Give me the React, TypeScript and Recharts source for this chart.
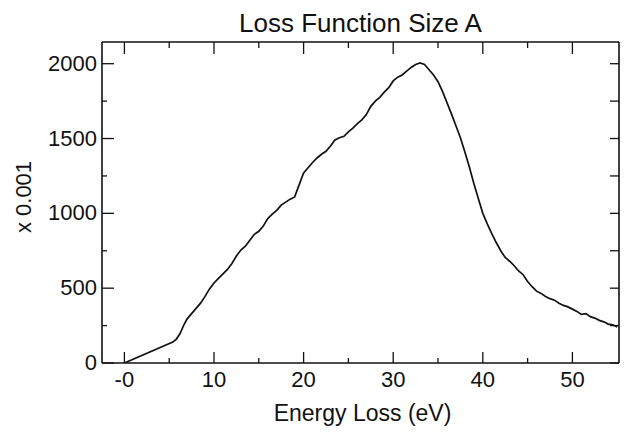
import React from 'react';
import { LineChart, Line, XAxis, YAxis, Label } from 'recharts';

const energyEv = [
  0, 5.4, 5.8, 6.2, 6.6, 7.0, 7.5, 8.0, 8.5, 9.0, 9.5, 10.0, 10.5, 11.0, 11.5, 12.0, 12.5, 13.0, 13.5, 14.0,
  14.5, 15.0, 15.5, 16.0, 16.5, 17.0, 17.5, 18.0, 18.5, 19.0, 19.5, 20.0, 20.5, 21.0, 21.5, 22.0, 22.5, 23.0,
  23.5, 24.0, 24.5, 25.0, 25.5, 26.0, 26.5, 27.0, 27.5, 28.0, 28.5, 29.0, 29.5, 30.0, 30.5, 31.0, 31.5, 32.0,
  32.5, 33.0, 33.5, 34.0, 34.5, 35.0, 35.5, 36.0, 36.5, 37.0, 37.5, 38.0, 38.5, 39.0, 39.5, 40.0, 40.5, 41.0,
  41.5, 42.0, 42.5, 43.0, 43.5, 44.0, 44.5, 45.0, 45.5, 46.0, 46.5, 47.0, 47.5, 48.0, 48.5, 49.0, 49.5, 50.0,
  50.5, 51.0, 51.5, 52.0, 52.5, 53.0, 53.5, 54.0, 54.5, 55.0,
];
const lossValues = [
  0, 140, 160, 195, 250, 295, 330, 365, 400, 445, 495, 535, 565, 595, 625, 665, 715, 755, 780, 820,
  860, 880, 915, 965, 995, 1020, 1055, 1075, 1095, 1110, 1190, 1270, 1305, 1340, 1370, 1395, 1415, 1450,
  1490, 1505, 1515, 1545, 1570, 1600, 1625, 1660, 1715, 1750, 1775, 1810, 1840, 1885, 1910, 1925, 1950, 1975,
  1995, 2005, 1995, 1960, 1925, 1880, 1815, 1740, 1665, 1585, 1505, 1410, 1310, 1200, 1100, 1000, 930, 865,
  805, 750, 705, 680, 650, 615, 590, 545, 510, 480, 465, 445, 430, 420, 400, 385, 375, 360,
  345, 325, 330, 310, 300, 285, 275, 260, 255, 240,
];

const xMajorTicks = [0, 10, 20, 30, 40, 50];
const xMinorTicks = [5, 15, 25, 35, 45];
const xTickLabels = ['-0', '10', '20', '30', '40', '50'];
const yMajorTicks = [0, 500, 1000, 1500, 2000];
const yMinorTicks = [250, 750, 1250, 1750];
const yTickLabels = ['0', '500', '1000', '1500', '2000'];

const titleText = 'Loss Function Size A';
const xAxisTitle = 'Energy Loss (eV)';
const yAxisTitle = 'x 0.001';

const data = energyEv.map((e, i) => ({ energy: e, loss: lossValues[i] }));
const xTicks = [...xMajorTicks, ...xMinorTicks].sort((a, b) => a - b);
const yTicks = [...yMajorTicks, ...yMinorTicks].sort((a, b) => a - b);

const FONT = '"Liberation Sans", Arial, Helvetica, sans-serif';
const INK = '#111';

const BottomTick = (props: any) => {
  const { x, y, payload } = props;
  const idx = xMajorTicks.indexOf(payload.value);
  const major = idx >= 0;
  return (
    <g>
      <line x1={x} x2={x} y1={y} y2={y - (major ? 11 : 5)} stroke={INK} strokeWidth={1.3} />
      {major && (
        <text x={x} y={y + 24} textAnchor="middle" fontSize={22} fontFamily={FONT} fill={INK}>
          {xTickLabels[idx]}
        </text>
      )}
    </g>
  );
};

const TopTick = (props: any) => {
  const { x, y, payload } = props;
  const major = xMajorTicks.indexOf(payload.value) >= 0;
  return <line x1={x} x2={x} y1={y} y2={y + (major ? 12 : 6)} stroke={INK} strokeWidth={1.3} />;
};

const LeftTick = (props: any) => {
  const { x, y, payload } = props;
  const idx = yMajorTicks.indexOf(payload.value);
  const major = idx >= 0;
  return (
    <g>
      <line x1={x} x2={x + (major ? 12 : 5)} y1={y} y2={y} stroke={INK} strokeWidth={1.3} />
      {major && (
        <text x={x - 5} y={y + 7} textAnchor="end" fontSize={22} fontFamily={FONT} fill={INK}>
          {yTickLabels[idx]}
        </text>
      )}
    </g>
  );
};

const RightTick = (props: any) => {
  const { x, y } = props;
  return <line x1={x} x2={x - 9} y1={y} y2={y} stroke={INK} strokeWidth={1.3} />;
};

export default function App() {
  return (
    <div style={{ position: 'absolute', left: 0, top: 0, width: 624, height: 433, background: '#fff' }}>
      <div
        style={{
          position: 'absolute',
          left: 102,
          width: 517,
          top: 10,
          textAlign: 'center',
          fontFamily: FONT,
          fontSize: 26,
          lineHeight: '26px',
          color: INK,
        }}
      >
        {titleText}
      </div>
      <LineChart width={624} height={433} data={data} margin={{ top: 41, right: 4, bottom: 0, left: 0 }}>
        <XAxis
          dataKey="energy"
          type="number"
          domain={[-2.5, 55.2]}
          ticks={xTicks}
          interval={0}
          height={70}
          tickSize={0}
          tickMargin={0}
          tickLine={false}
          axisLine={{ stroke: INK, strokeWidth: 1.6 }}
          tick={BottomTick}
          allowDataOverflow
        >
          <Label
            content={(p: any) => {
              const vb = p.viewBox;
              return (
                <text x={vb.x + vb.width / 2 + 2} y={vb.y + 58} textAnchor="middle" fontSize={23} fontFamily={FONT} fill={INK}>
                  {xAxisTitle}
                </text>
              );
            }}
          />
        </XAxis>
        <XAxis
          xAxisId="top"
          orientation="top"
          dataKey="energy"
          type="number"
          domain={[-2.5, 55.2]}
          ticks={xTicks}
          interval={0}
          height={1}
          tickSize={0}
          tickMargin={0}
          tickLine={false}
          axisLine={{ stroke: INK, strokeWidth: 1.6 }}
          tick={TopTick}
          allowDataOverflow
        />
        <YAxis
          type="number"
          domain={[0, 2145]}
          ticks={yTicks}
          interval={0}
          width={102}
          tickSize={0}
          tickMargin={0}
          tickLine={false}
          axisLine={{ stroke: INK, strokeWidth: 1.6 }}
          tick={LeftTick}
          allowDataOverflow
        >
          <Label
            content={(p: any) => {
              const vb = p.viewBox;
              const cx = 31;
              const cy = vb.y + 155;
              return (
                <text
                  x={cx}
                  y={cy}
                  transform={`rotate(-90, ${cx}, ${cy})`}
                  textAnchor="middle"
                  fontSize={22}
                  fontFamily={FONT}
                  fill={INK}
                >
                  {yAxisTitle}
                </text>
              );
            }}
          />
        </YAxis>
        <YAxis
          yAxisId="right"
          orientation="right"
          type="number"
          domain={[0, 2145]}
          ticks={yTicks}
          interval={0}
          width={1}
          tickSize={0}
          tickMargin={0}
          tickLine={false}
          axisLine={{ stroke: INK, strokeWidth: 1.6 }}
          tick={RightTick}
          allowDataOverflow
        />
        <Line
          type="linear"
          dataKey="loss"
          stroke={INK}
          strokeWidth={1.7}
          dot={false}
          isAnimationActive={false}
        />
        <Line
          xAxisId="top"
          yAxisId="right"
          type="linear"
          dataKey="loss"
          stroke="none"
          strokeWidth={0}
          dot={false}
          activeDot={false}
          legendType="none"
          isAnimationActive={false}
        />
      </LineChart>
    </div>
  );
}
